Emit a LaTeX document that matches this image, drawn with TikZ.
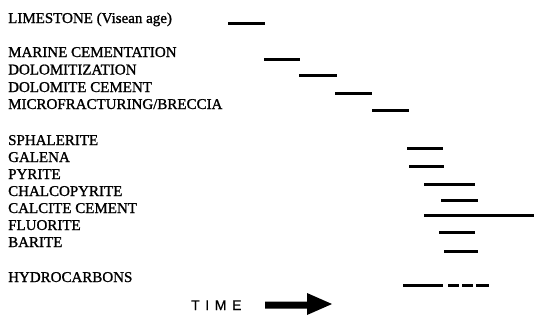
\documentclass[tikz,border=0pt]{standalone}
\usepackage{fontspec}
\setmainfont[FakeBold=1.2]{Liberation Serif}
\newfontfamily\timefont[LetterSpace=40,FakeBold=0.8]{Liberation Sans}
\usepackage{tikz}
\usetikzlibrary{positioning}
\tikzstyle{stage} = [anchor=base west, inner sep=0pt, font=\fontsize{15}{18}\selectfont]
\tikzstyle{bar} = [line width=3pt]
\tikzstyle{thinbar} = [line width=2.2pt]

\begin{document}
\begin{tikzpicture}[x=1pt, y=-1pt]
    \useasboundingbox (0,0) rectangle (534,322);

    % Host rock
    \node[stage] (lime) at (8,23) {LIMESTONE (Visean age)};

    % Diagenesis
    \node[stage] (marine) at (8,57) {MARINE CEMENTATION};
    \node[stage] (dolo) at (8,74.5) {DOLOMITIZATION};
    \node[stage] (dolocem) at (8,92) {DOLOMITE CEMENT};
    \node[stage] (breccia) at (8,109) {MICROFRACTURING/BRECCIA};

    % Mineralization
    \node[stage] (sphal) at (8,145) {SPHALERITE};
    \node[stage] (galena) at (8,162) {GALENA};
    \node[stage] (pyrite) at (8,179) {PYRITE};
    \node[stage] (chalco) at (8,196) {CHALCOPYRITE};
    \node[stage] (calcite) at (8,213) {CALCITE CEMENT};
    \node[stage] (fluor) at (8,230) {FLUORITE};
    \node[stage] (barite) at (8,247) {BARITE};

    % Late fluids
    \node[stage] (hydro) at (8,282) {HYDROCARBONS};

    % Bars
    \foreach \a/\b/\y in {228/265/23, 264/300/59, 299/337/75, 335/372/93,
                          372/409/110, 407/443/148, 409/444/166, 424/475/184,
                          441/478/200, 424/470/215, 439/475/232, 444/478/251,
                          403/443/285, 448/459/285, 462/473/285, 476/489/285}
        \draw[bar] (\a,\y) -- (\b,\y);
    \draw[thinbar] (470,215.5) -- (534,215.5);

    % Time arrow
    \node[anchor=base west, inner sep=0pt, font=\timefont\fontsize{14}{16}\selectfont] (time) at (191,310) {TIME};
    \fill (265,301.5) -- (307,301.5) -- (307,293) -- (332,304) -- (307,315)
        -- (307,308.5) -- (265,308.5) -- cycle;

\end{tikzpicture}
\end{document}
